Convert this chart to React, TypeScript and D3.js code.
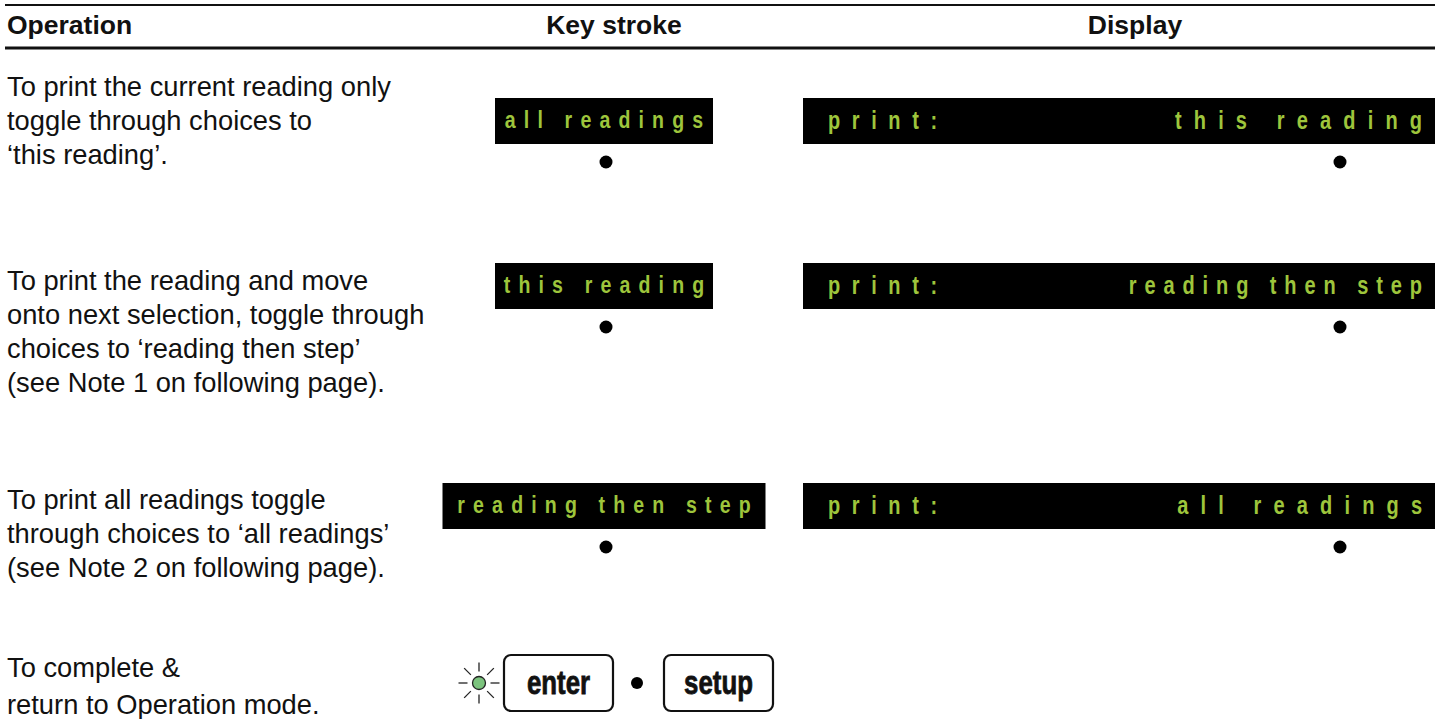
import React, {useEffect, useRef} from 'react'
import * as d3 from 'd3'

// table content
const headers = ['Operation', 'Key stroke', 'Display']
const operations = [
  ['To print the current reading only', 'toggle through choices to', '\u2018this reading\u2019.'],
  ['To print the reading and move', 'onto next selection, toggle through', 'choices to \u2018reading then step\u2019', '(see Note 1 on following page).'],
  ['To print all readings toggle', 'through choices to \u2018all readings\u2019', '(see Note 2 on following page).'],
  ['To complete &', 'return to Operation mode.'],
]
const keyLabels = ['all readings', 'this reading', 'reading then step']
const displayPrefix = 'print:'
const displayValues = ['this reading', 'reading then step', 'all readings']
const finalKeys = ['enter', 'setup']

const W = 1435
const H = 719
const green = '#9ec53c'
const bodyFont = '"Liberation Sans", Arial, Helvetica, sans-serif'

// layout per row (text start, box centre)
const textTops = [86, 280, 499, 667]
const lineGap = [34, 34, 34, 37]
const boxCentres = [121, 286, 506, 683]
const dispSpacing = [15.2, 9.9, 15.2]

// green segment text, squeezed horizontally
function lcdText(g: any, s: string, x: number, y: number, size: number, sx: number, ls: number, anchor: string) {
  const shift = anchor == 'middle' ? ls / 2 : anchor == 'end' ? ls : 0
  g.append('text')
    .attr('transform', `translate(${x},${y}) scale(${sx},1)`)
    .attr('x', shift)
    .attr('text-anchor', anchor)
    .attr('font-family', bodyFont)
    .attr('font-weight', 'bold')
    .attr('font-size', size)
    .attr('letter-spacing', ls)
    .attr('fill', green)
    .text(s)
}

export default function App() {
  const ref = useRef<SVGSVGElement>(null)

  useEffect(() => {
    document.body.style.margin = '0'
    const svg = d3.select(ref.current)
    svg.selectAll('*').remove()

    const colX = d3.scaleOrdinal<string, number>().domain(headers).range([7, 614, 1135])
    const rowY = d3.scaleOrdinal<number, number>().domain(d3.range(4)).range(boxCentres)
    const textY = d3.scaleOrdinal<number, number>().domain(d3.range(4)).range(textTops)

    // header rules
    svg.append('line').attr('x1', 5).attr('x2', W).attr('y1', 5).attr('y2', 5)
      .attr('stroke', '#111').attr('stroke-width', 2.2)
    svg.append('line').attr('x1', 5).attr('x2', W).attr('y1', 48).attr('y2', 48)
      .attr('stroke', '#111').attr('stroke-width', 2.8)

    svg.selectAll('text.head')
      .data(headers)
      .enter()
      .append('text')
      .attr('class', 'head')
      .attr('x', d => colX(d))
      .attr('y', 34)
      .attr('text-anchor', (d, i) => i == 0 ? 'start' : 'middle')
      .attr('font-family', bodyFont)
      .attr('font-weight', 'bold')
      .attr('font-size', 26.5)
      .attr('fill', '#111')
      .text(d => d)

    // operation descriptions
    operations.forEach((lines, r) => {
      svg.append('g')
        .selectAll('text')
        .data(lines)
        .enter()
        .append('text')
        .attr('x', 7)
        .attr('y', (d, i) => textY(r) + i * lineGap[r])
        .attr('dominant-baseline', 'central')
        .attr('font-family', bodyFont)
        .attr('font-size', 27.3)
        .attr('fill', '#111')
        .text(d => d)
    })

    // key stroke boxes
    const keyW = (s: string) => s.length > 14 ? 323 : 218
    const keyCx = 604
    keyLabels.forEach((k, r) => {
      const cy = rowY(r)
      svg.append('rect')
        .attr('x', keyCx - keyW(k) / 2).attr('y', cy - 23)
        .attr('width', keyW(k)).attr('height', 46)
        .attr('fill', '#000')
      lcdText(svg, k, keyCx, cy + 7, 23, 0.85, 9.6, 'middle')
      svg.append('circle').attr('cx', 606).attr('cy', cy + 41).attr('r', 6.5).attr('fill', '#000')
    })

    // display boxes
    displayValues.forEach((v, r) => {
      const cy = rowY(r)
      svg.append('rect')
        .attr('x', 803).attr('y', cy - 23)
        .attr('width', W - 803).attr('height', 46)
        .attr('fill', '#000')
      lcdText(svg, displayPrefix, 828, cy + 7.5, 25, 0.8, 14.5, 'start')
      lcdText(svg, v, 1422, cy + 7.5, 25, 0.8, dispSpacing[r], 'end')
      svg.append('circle').attr('cx', 1340).attr('cy', cy + 41).attr('r', 6.5).attr('fill', '#000')
    })

    // enter / setup keys with the led
    const cy = rowY(3)
    const keyX = d3.scaleOrdinal<string, number>().domain(finalKeys).range([558.5, 718.5])
    const led = svg.append('g').attr('transform', `translate(479,${cy})`)
    led.selectAll('line')
      .data(d3.range(8))
      .enter()
      .append('line')
      .attr('x1', d => Math.cos(d * Math.PI / 4) * 11.5)
      .attr('y1', d => Math.sin(d * Math.PI / 4) * 11.5)
      .attr('x2', d => Math.cos(d * Math.PI / 4) * (d % 2 ? 21 : 20.5))
      .attr('y2', d => Math.sin(d * Math.PI / 4) * (d % 2 ? 21 : 20.5))
      .attr('stroke', '#222')
      .attr('stroke-width', 1.3)
    led.append('circle').attr('r', 6.5).attr('fill', '#7cc47e').attr('stroke', '#222').attr('stroke-width', 1.3)

    finalKeys.forEach(k => {
      const x = keyX(k)
      svg.append('rect')
        .attr('x', x - 54.5).attr('y', cy - 28)
        .attr('width', 109).attr('height', 56)
        .attr('rx', 7)
        .attr('fill', 'white')
        .attr('stroke', '#111')
        .attr('stroke-width', 2.2)
      svg.append('text')
        .attr('transform', `translate(${x},${cy + 11}) scale(0.76,1)`)
        .attr('text-anchor', 'middle')
        .attr('font-family', bodyFont)
        .attr('font-weight', 'bold')
        .attr('font-size', 34)
        .attr('stroke', '#111')
        .attr('stroke-width', 0.8)
        .attr('fill', '#111')
        .text(k)
    })
    svg.append('circle').attr('cx', 637).attr('cy', cy).attr('r', 6).attr('fill', '#000')
  }, [])

  return <svg ref={ref} width={W} height={H} style={{display: 'block', background: 'white'}} />
}
